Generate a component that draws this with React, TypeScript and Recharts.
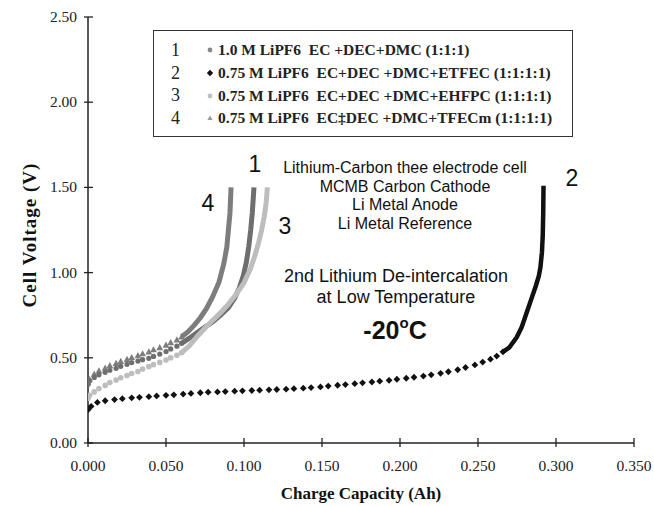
import React from 'react';
import { ComposedChart, Scatter, Line, XAxis, YAxis, Customized } from 'recharts';

const xTicks = [0, 0.05, 0.1, 0.15, 0.2, 0.25, 0.3, 0.35];
const yTicks = [0, 0.5, 1, 1.5, 2, 2.5];

// [charge capacity (Ah), cell voltage (V)]
// curve 1: 1.0 M LiPF6 EC+DEC+DMC
const c1Dots: [number, number][] = [
  [0, 0.345], [0.001, 0.365], [0.004, 0.385], [0.007, 0.4], [0.011, 0.415], [0.014, 0.427],
  [0.018, 0.438], [0.021, 0.45], [0.025, 0.462], [0.028, 0.472], [0.032, 0.481], [0.035, 0.489],
  [0.039, 0.497], [0.042, 0.508], [0.046, 0.522], [0.05, 0.537], [0.053, 0.552], [0.057, 0.568],
  [0.06, 0.585],
];
const c1Tail: [number, number][] = [
  [0.06, 0.585], [0.065, 0.615], [0.07, 0.648], [0.075, 0.68], [0.08, 0.712], [0.085, 0.75],
  [0.09, 0.795], [0.094, 0.85], [0.097, 0.91], [0.0995, 0.98], [0.1015, 1.06], [0.103, 1.15],
  [0.1043, 1.25], [0.1053, 1.35], [0.1064, 1.5],
];

// curve 2: + ETFEC
const c2Dots: [number, number][] = [
  [0, 0.195], [0.002, 0.215], [0.006, 0.238], [0.011, 0.248], [0.017, 0.255], [0.022, 0.26],
  [0.028, 0.265], [0.033, 0.268], [0.039, 0.272], [0.044, 0.276], [0.05, 0.28], [0.055, 0.283],
  [0.061, 0.287], [0.066, 0.291], [0.072, 0.295], [0.077, 0.298], [0.083, 0.3], [0.088, 0.302],
  [0.094, 0.304], [0.099, 0.306], [0.105, 0.308], [0.11, 0.31], [0.116, 0.312], [0.121, 0.314],
  [0.127, 0.316], [0.132, 0.319], [0.138, 0.322], [0.143, 0.325], [0.149, 0.329], [0.154, 0.334],
  [0.16, 0.339], [0.165, 0.343], [0.171, 0.348], [0.176, 0.353], [0.182, 0.358], [0.187, 0.363],
  [0.193, 0.368], [0.198, 0.374], [0.204, 0.38], [0.209, 0.386], [0.215, 0.393], [0.22, 0.4],
  [0.226, 0.409], [0.231, 0.418], [0.237, 0.43], [0.242, 0.443], [0.248, 0.458], [0.253, 0.475],
  [0.258, 0.492], [0.262, 0.51], [0.266, 0.535],
];
const c2Tail: [number, number][] = [
  [0.266, 0.535], [0.27, 0.56], [0.2748, 0.62], [0.278, 0.68], [0.281, 0.76], [0.284, 0.84],
  [0.287, 0.92], [0.289, 0.98], [0.29, 1.03], [0.291, 1.12], [0.2915, 1.22], [0.2918, 1.35],
  [0.292, 1.51],
];

// curve 3: + EHFPC
const c3Dots: [number, number][] = [
  [0, 0.262], [0.001, 0.28], [0.004, 0.3], [0.007, 0.32], [0.011, 0.338], [0.014, 0.355],
  [0.018, 0.37], [0.021, 0.383], [0.025, 0.396], [0.028, 0.408], [0.032, 0.42], [0.035, 0.434],
  [0.039, 0.448], [0.042, 0.46], [0.046, 0.473], [0.05, 0.487], [0.053, 0.5], [0.057, 0.515],
  [0.06, 0.53],
];
const c3Tail: [number, number][] = [
  [0.06, 0.53], [0.065, 0.57], [0.07, 0.625], [0.075, 0.675], [0.08, 0.72], [0.085, 0.765],
  [0.09, 0.815], [0.095, 0.873], [0.1, 0.94], [0.104, 1.02], [0.107, 1.1], [0.1095, 1.18],
  [0.1113, 1.25], [0.113, 1.33], [0.1142, 1.41], [0.115, 1.5],
];

// curve 4: + TFECm
const c4Dots: [number, number][] = [
  [0, 0.355], [0.001, 0.375], [0.004, 0.405], [0.007, 0.424], [0.011, 0.44], [0.014, 0.455],
  [0.018, 0.468], [0.021, 0.48], [0.025, 0.492], [0.028, 0.503], [0.032, 0.514], [0.035, 0.525],
  [0.039, 0.536], [0.042, 0.548], [0.046, 0.561], [0.05, 0.575], [0.053, 0.59], [0.057, 0.606],
  [0.06, 0.624],
];
const c4Tail: [number, number][] = [
  [0.06, 0.624], [0.064, 0.652], [0.068, 0.69], [0.072, 0.735], [0.076, 0.79], [0.08, 0.86],
  [0.084, 0.945], [0.087, 1.05], [0.089, 1.15], [0.09, 1.25], [0.091, 1.35], [0.0917, 1.5],
];

const legendNums = ['1', '2', '3', '4'];
const legendTexts = [
  '1.0 M LiPF6  EC +DEC+DMC (1:1:1)',
  '0.75 M LiPF6  EC+DEC +DMC+ETFEC (1:1:1:1)',
  '0.75 M LiPF6  EC+DEC +DMC+EHFPC (1:1:1:1)',
  '0.75 M LiPF6  EC\u2021DEC +DMC+TFECm (1:1:1:1)',
];
const cellNotes = [
  'Lithium-Carbon thee electrode cell',
  'MCMB Carbon Cathode',
  'Li Metal Anode',
  'Li Metal Reference',
];
const testNotes = ['2nd Lithium De-intercalation', 'at Low Temperature'];

const C1 = '#6e6e6e';
const C2 = '#111111';
const C3 = '#bdbdbd';
const C4 = '#7d7d7d';
const SERIF = '"Liberation Serif", "Times New Roman", serif';
const SANS = '"Liberation Sans", Arial, sans-serif';

const rows = (pts: [number, number][]) => pts.map(([q, v]) => ({ q, v }));

const circle = (fill: string, r: number) => (p: any) => <circle cx={p.cx} cy={p.cy} r={r} fill={fill} />;
const diamond = (fill: string, s: number) => (p: any) => (
  <polygon points={`${p.cx},${p.cy - s} ${p.cx + s},${p.cy} ${p.cx},${p.cy + s} ${p.cx - s},${p.cy}`} fill={fill} />
);
const triangle = (fill: string, s: number) => (p: any) => (
  <polygon points={`${p.cx},${p.cy - s} ${p.cx + s},${p.cy + s * 0.8} ${p.cx - s},${p.cy + s * 0.8}`} fill={fill} />
);

const XTick = (props: any) => {
  const { x, y, payload } = props;
  return (
    <g>
      <line x1={x} x2={x} y1={y - 5} y2={y + 4} stroke="#222" strokeWidth={1.3} />
      <text x={x} y={y + 28} textAnchor="middle" fontFamily={SERIF} fontSize={15.5} fill="#222">
        {Number(payload.value).toFixed(3)}
      </text>
    </g>
  );
};

const YTick = (props: any) => {
  const { x, y, payload } = props;
  return (
    <g>
      <line x1={x - 4} x2={x + 5} y1={y} y2={y} stroke="#222" strokeWidth={1.3} />
      <text x={x - 11} y={y + 5} textAnchor="end" fontFamily={SERIF} fontSize={15.5} fill="#222">
        {Number(payload.value).toFixed(2)}
      </text>
    </g>
  );
};

const legendMarkers = [
  <circle cx={5} cy={5} r={2.4} fill="#888" />,
  <polygon points="5,1.8 8.2,5 5,8.2 1.8,5" fill={C2} />,
  <circle cx={5} cy={5} r={2.4} fill={C3} />,
  <polygon points="5,2.4 7.6,7 2.4,7" fill="#999" />,
];

const LegendBox = () => (
  <div
    style={{
      position: 'absolute',
      left: 153,
      top: 30,
      border: '1.5px solid #333',
      width: 420,
      height: 107,
      boxSizing: 'border-box',
      paddingTop: 8,
      background: '#fff',
    }}
  >
    {legendTexts.map((t, i) => (
      <div key={i} style={{ display: 'flex', alignItems: 'center', height: 22.7 }}>
        <span style={{ fontFamily: SERIF, fontSize: 18, width: 20, marginLeft: 17, color: '#222' }}>{legendNums[i]}</span>
        <svg width={10} height={10} style={{ marginLeft: 14 }}>
          {legendMarkers[i]}
        </svg>
        <span style={{ fontFamily: SERIF, fontWeight: 'bold', fontSize: 15.5, marginLeft: 3, whiteSpace: 'pre', color: '#222' }}>
          {t}
        </span>
      </div>
    ))}
  </div>
);

const Notes = () => (
  <g fill="#111">
    <text x={255} y={172} fontFamily={SANS} fontSize={23} textAnchor="middle">1</text>
    <text x={208} y={211} fontFamily={SANS} fontSize={23} textAnchor="middle">4</text>
    <text x={285} y={234} fontFamily={SANS} fontSize={23} textAnchor="middle">3</text>
    <text x={572} y={186} fontFamily={SANS} fontSize={23} textAnchor="middle">2</text>
    {cellNotes.map((t, i) => (
      <text key={t} x={405} y={173 + i * 18.5} fontFamily={SANS} fontSize={16} textAnchor="middle">
        {t}
      </text>
    ))}
    {testNotes.map((t, i) => (
      <text key={t} x={396} y={282 + i * 21} fontFamily={SANS} fontSize={18} textAnchor="middle">
        {t}
      </text>
    ))}
    <text x={395} y={339} fontFamily={SANS} fontSize={25} fontWeight="bold" textAnchor="middle">
      -20<tspan fontSize={15} dy={-11}>o</tspan><tspan dy={11}>C</tspan>
    </text>
  </g>
);

export default function App() {
  return (
    <div style={{ position: 'absolute', left: 0, top: 0, width: 654, height: 506, background: '#fff' }}>
      <ComposedChart width={654} height={506} margin={{ top: 17, right: 20, bottom: 23, left: 0 }}>
        <XAxis
          type="number"
          dataKey="q"
          domain={[0, 0.35]}
          ticks={xTicks}
          allowDataOverflow
          stroke="#222"
          strokeWidth={1.5}
          tickLine={false}
          tickSize={0}
          tickMargin={0}
          tick={<XTick />}
          height={40}
        />
        <YAxis
          type="number"
          dataKey="v"
          domain={[0, 2.5]}
          ticks={yTicks}
          allowDataOverflow
          stroke="#222"
          strokeWidth={1.5}
          tickLine={false}
          tickSize={0}
          tickMargin={0}
          tick={<YTick />}
          width={88}
        />
        <Line data={rows(c4Tail)} dataKey="v" stroke={C4} strokeWidth={5} dot={false} isAnimationActive={false} />
        <Scatter data={rows(c4Dots)} dataKey="v" shape={triangle(C4, 3.4)} isAnimationActive={false} />
        <Line data={rows(c1Tail)} dataKey="v" stroke={C1} strokeWidth={5} dot={false} isAnimationActive={false} />
        <Scatter data={rows(c1Dots)} dataKey="v" shape={circle(C1, 2.6)} isAnimationActive={false} />
        <Line data={rows(c3Tail)} dataKey="v" stroke={C3} strokeWidth={5} dot={false} isAnimationActive={false} />
        <Scatter data={rows(c3Dots)} dataKey="v" shape={circle(C3, 2.8)} isAnimationActive={false} />
        <Line data={rows(c2Tail)} dataKey="v" stroke={C2} strokeWidth={4.5} dot={false} isAnimationActive={false} />
        <Scatter data={rows(c2Dots)} dataKey="v" shape={diamond(C2, 3.4)} isAnimationActive={false} />
        <Customized component={Notes} />
        <text x={361} y={499} textAnchor="middle" fontFamily={SERIF} fontSize={17} fontWeight="bold" fill="#111">
          Charge Capacity (Ah)
        </text>
        <text
          x={29}
          y={235}
          transform="rotate(-90 29 235)"
          textAnchor="middle"
          dominantBaseline="central"
          fontFamily={SERIF}
          fontSize={19}
          fontWeight="bold"
          letterSpacing={1}
          fill="#111"
        >
          Cell Voltage (V)
        </text>
      </ComposedChart>
      <LegendBox />
    </div>
  );
}
